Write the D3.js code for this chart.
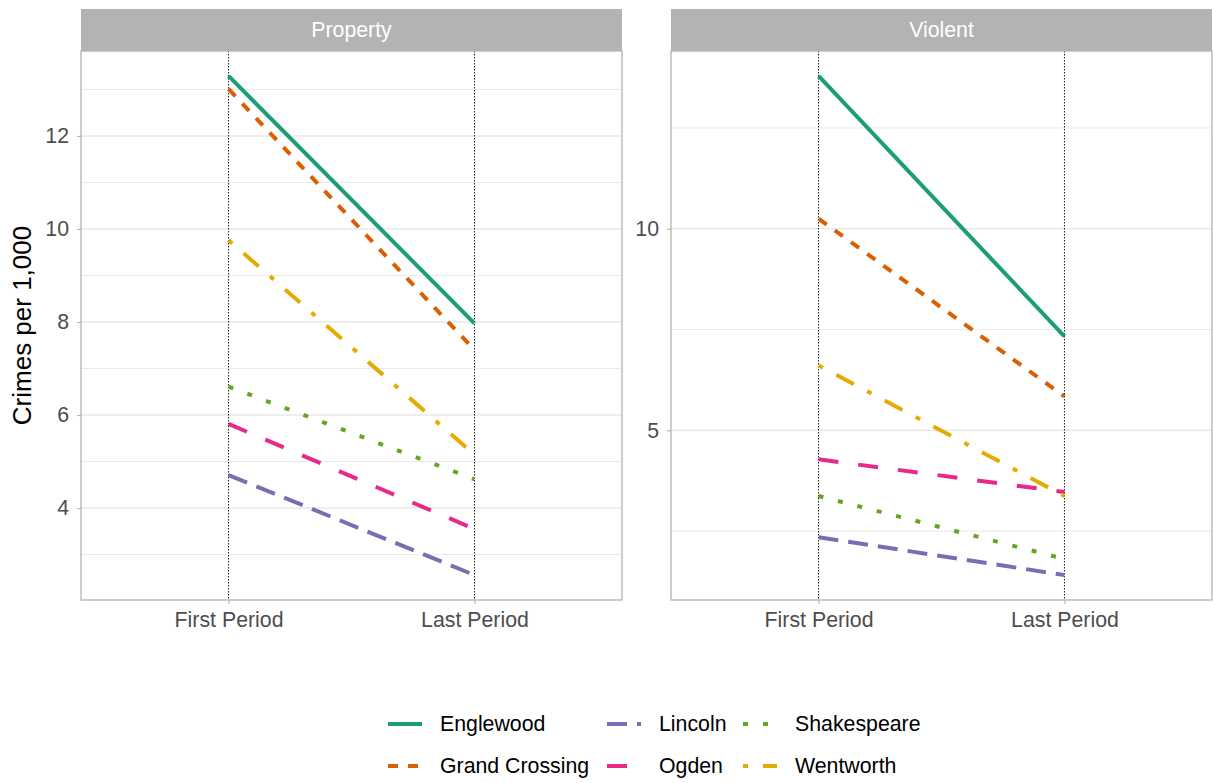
<!DOCTYPE html>
<html>
<head>
<meta charset="utf-8">
<script src="https://cdn.jsdelivr.net/npm/d3@7"></script>
<style>
  html, body { margin: 0; padding: 0; background: #fff; }
  text { font-family: "Liberation Sans", Arial, Helvetica, sans-serif; }
</style>
</head>
<body>
<svg id="chart" width="1213" height="783"></svg>
<script>
// ---- data ----
const periods = ["First Period", "Last Period"];
const districts = ["Englewood", "Grand Crossing", "Lincoln", "Ogden", "Shakespeare", "Wentworth"];
const facets = ["Property", "Violent"];
const propertyFirst = [13.29, 13.01, 4.71, 5.81, 6.61, 9.76];
const propertyLast  = [7.97, 7.40, 2.56, 3.55, 4.62, 5.15];
const violentFirst  = [13.79, 10.25, 2.35, 4.28, 3.37, 6.61];
const violentLast   = [7.33, 5.84, 1.41, 3.47, 1.81, 3.37];
const propertyTicks = [4, 6, 8, 10, 12];
const propertyMinor = [3, 5, 7, 9, 11, 13];
const violentTicks  = [5, 10];
const violentMinor  = [2.5, 7.5, 12.5];
const colors = ["#1B9E77", "#D95F02", "#7570B3", "#E7298A", "#66A61E", "#E6AB02"];
const dashes = ["none", "10,10", "20,10", "20,20", "5,15", "5,15,20,15"];

// ---- layout ----
const svg = d3.select("#chart");
const panelTop = 51, panelBottom = 600, stripTop = 9;
const panels = [
  { name: facets[0], x0: 81, x1: 622, first: propertyFirst, last: propertyLast, ticks: propertyTicks, minor: propertyMinor },
  { name: facets[1], x0: 671, x1: 1212, first: violentFirst, last: violentLast, ticks: violentTicks, minor: violentMinor }
];
const tickFont = 21.3, titleFont = 26;

panels.forEach(p => {
  const g = svg.append("g");
  const all = p.first.concat(p.last);
  const lo = d3.min(all), hi = d3.max(all), pad = (hi - lo) * 0.05;
  const y = d3.scaleLinear().domain([lo - pad, hi + pad]).range([panelBottom, panelTop]);
  const x = d3.scalePoint().domain(periods).range([p.x0, p.x1]).padding(0.6);

  // strip
  g.append("rect").attr("x", p.x0).attr("y", stripTop).attr("width", p.x1 - p.x0).attr("height", panelTop - stripTop)
    .attr("fill", "#b3b3b3");
  g.append("text").attr("x", (p.x0 + p.x1) / 2).attr("y", (stripTop + panelTop) / 2).attr("dy", "0.35em")
    .attr("text-anchor", "middle").attr("fill", "#ffffff").attr("font-size", tickFont).text(p.name);

  // grid
  g.selectAll(".minor").data(p.minor.filter(v => y(v) > panelTop && y(v) < panelBottom)).join("line")
    .attr("x1", p.x0).attr("x2", p.x1).attr("y1", d => y(d)).attr("y2", d => y(d))
    .attr("stroke", "#e3e3e3").attr("stroke-width", 0.8);
  g.selectAll(".major").data(p.ticks).join("line")
    .attr("x1", p.x0).attr("x2", p.x1).attr("y1", d => y(d)).attr("y2", d => y(d))
    .attr("stroke", "#dedede").attr("stroke-width", 1.1);

  // dotted vertical lines
  g.selectAll(".vl").data(periods).join("line")
    .attr("x1", d => x(d)).attr("x2", d => x(d)).attr("y1", panelTop).attr("y2", panelBottom)
    .attr("stroke", "#000").attr("stroke-width", 0.9).attr("stroke-dasharray", "1.5,1.5");

  // series lines
  const line = d3.line().x(d => x(d[0])).y(d => y(d[1]));
  districts.forEach((name, i) => {
    g.append("path").datum([[periods[0], p.first[i]], [periods[1], p.last[i]]])
      .attr("d", line).attr("fill", "none").attr("stroke", colors[i]).attr("stroke-width", 4)
      .attr("stroke-dasharray", dashes[i]).attr("stroke-linecap", "butt");
  });

  // border
  g.append("rect").attr("x", p.x0).attr("y", panelTop).attr("width", p.x1 - p.x0).attr("height", panelBottom - panelTop)
    .attr("fill", "none").attr("stroke", "#b3b3b3").attr("stroke-width", 1.3);

  // y axis
  const ya = d3.axisLeft(y).tickValues(p.ticks).tickSize(4).tickPadding(8).tickFormat(d3.format("d"));
  const yg = g.append("g").attr("transform", `translate(${p.x0},0)`).call(ya);
  yg.select(".domain").remove();
  yg.selectAll(".tick line").attr("stroke", "#b3b3b3").attr("stroke-width", 1.1);
  yg.selectAll(".tick text").attr("fill", "#4d4d4d").attr("font-size", tickFont)
    .attr("font-family", "Liberation Sans, Arial, sans-serif");

  // x axis
  const xa = d3.axisBottom(x).tickSize(4).tickPadding(8);
  const xg = g.append("g").attr("transform", `translate(0,${panelBottom})`).call(xa);
  xg.select(".domain").remove();
  xg.selectAll(".tick line").attr("stroke", "#b3b3b3").attr("stroke-width", 1.1);
  xg.selectAll(".tick text").attr("fill", "#4d4d4d").attr("font-size", tickFont)
    .attr("font-family", "Liberation Sans, Arial, sans-serif");
});

// y title
svg.append("text").attr("transform", `translate(31,${(panelTop + panelBottom) / 2}) rotate(-90)`)
  .attr("text-anchor", "middle").attr("fill", "#000").attr("font-size", titleFont).text("Crimes per 1,000");

// legend (2 rows, filled by column)
const colKeyX = [388, 607, 743];
const rowY = [724, 766];
const lg = svg.append("g");
districts.forEach((name, i) => {
  const c = Math.floor(i / 2), r = i % 2;
  lg.append("line").attr("x1", colKeyX[c]).attr("x2", colKeyX[c] + 34).attr("y1", rowY[r]).attr("y2", rowY[r])
    .attr("stroke", colors[i]).attr("stroke-width", 4).attr("stroke-dasharray", dashes[i]);
  lg.append("text").attr("x", colKeyX[c] + 52).attr("y", rowY[r]).attr("dy", "0.35em")
    .attr("fill", "#000").attr("font-size", tickFont).text(name);
});
</script>
</body>
</html>
